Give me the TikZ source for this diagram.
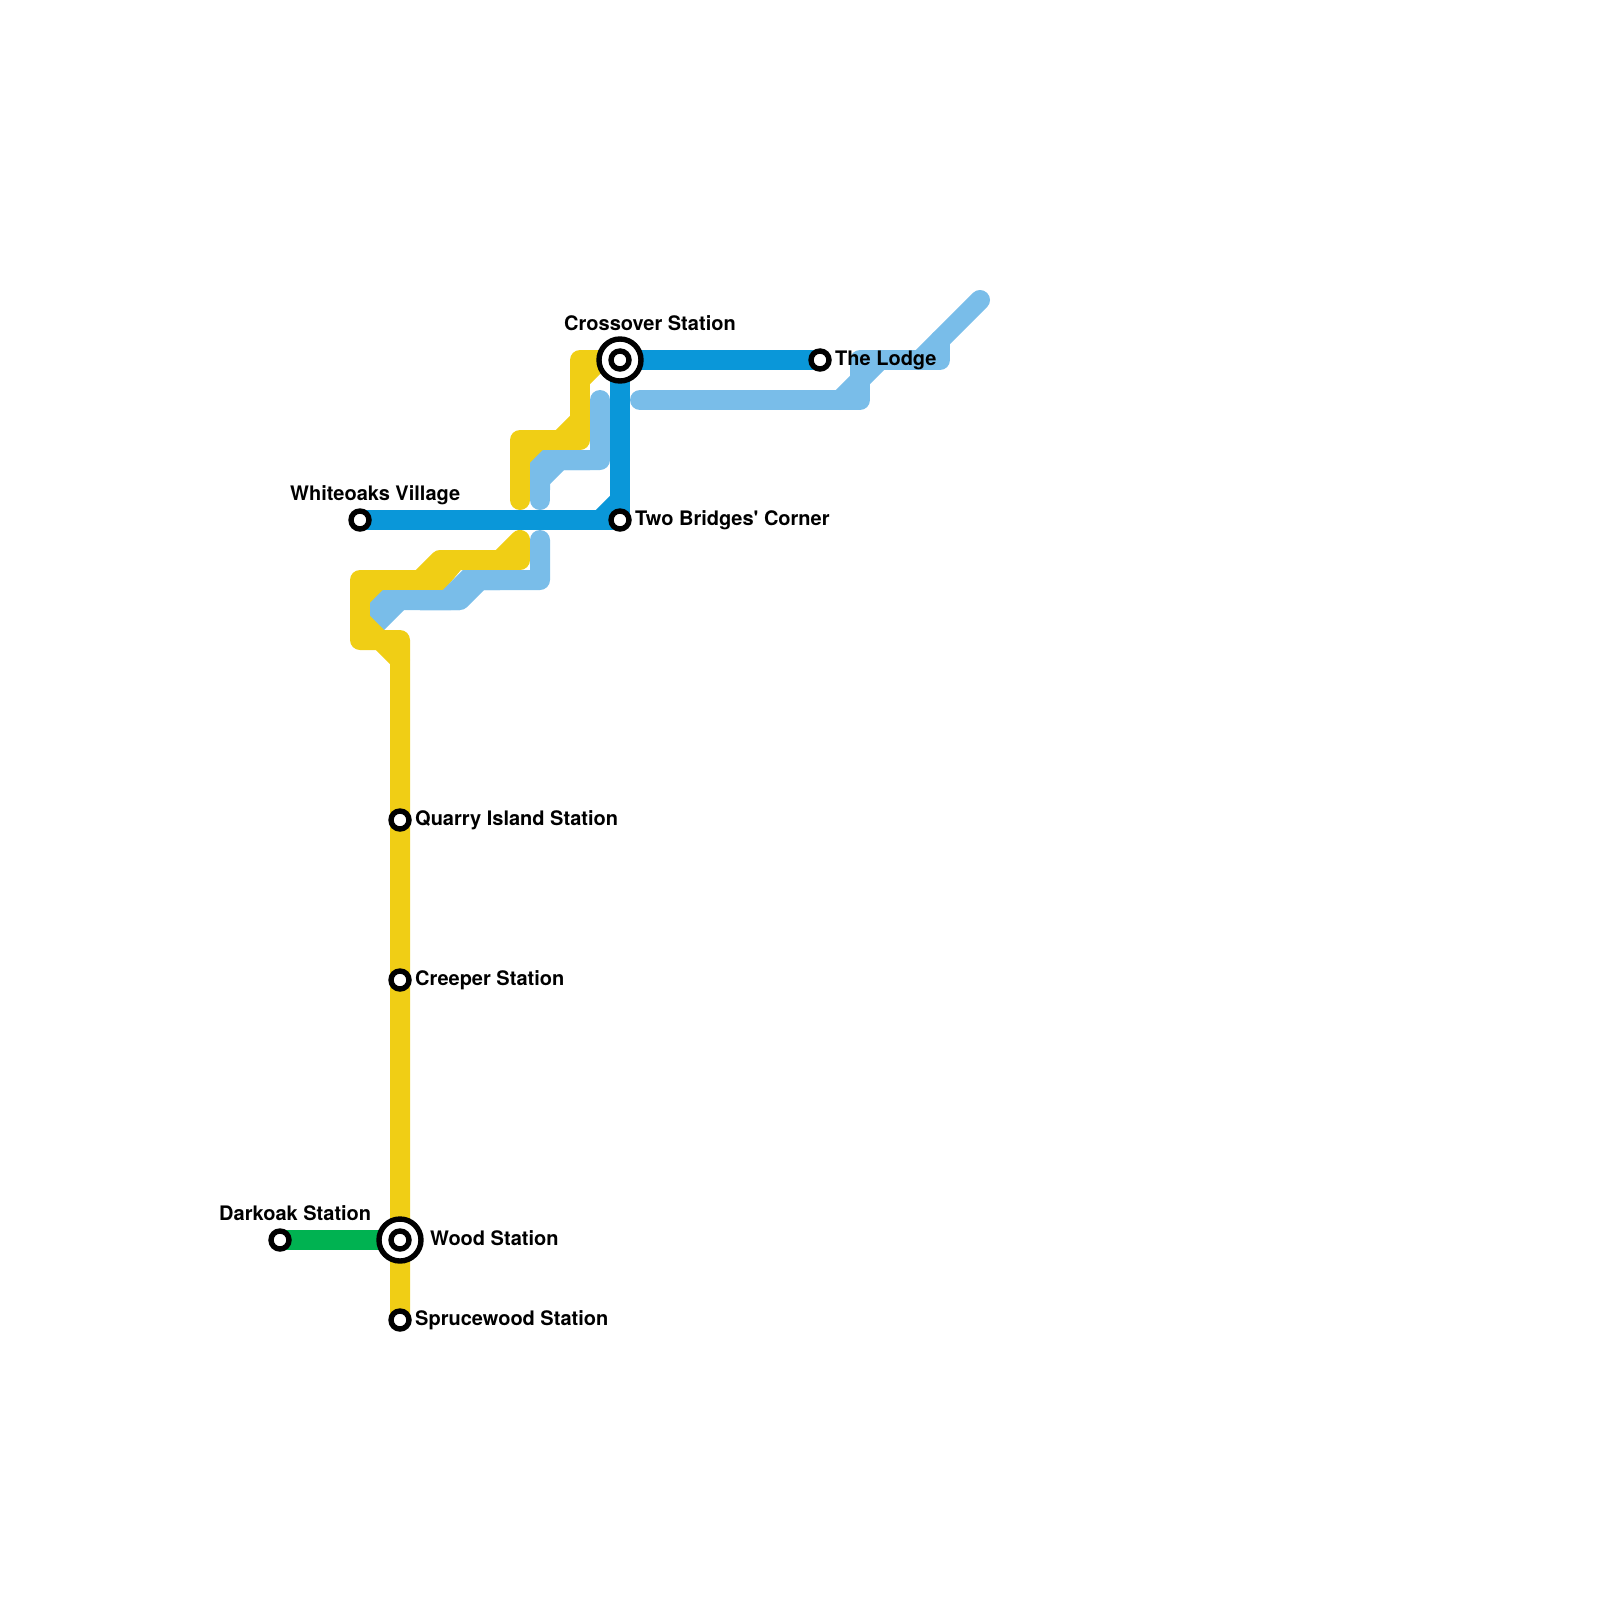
\documentclass[tikz,border=0pt]{standalone}
\usepackage{fontspec}
\setmainfont{TeX Gyre Heros}
\usetikzlibrary{backgrounds}
\definecolor{myellow}{HTML}{F0CE15}
\definecolor{mdark}{HTML}{0A97D9}
\definecolor{mlight}{HTML}{79BDE9}
\definecolor{mgreen}{HTML}{00B251}
\tikzset{
  x=1pt,y=-1pt,
  metro/.style={line width=20pt,line cap=round,line join=round},
  yline/.style={metro,draw=myellow},
  dline/.style={metro,draw=mdark},
  lline/.style={metro,draw=mlight},
  gline/.style={metro,draw=mgreen},
  stop/.style={circle,draw=black,fill=white,line width=5.4pt,minimum size=18pt,inner sep=0pt,outer sep=0pt},
  hubring/.style={circle,draw=black,fill=white,line width=5.4pt,minimum size=42pt,inner sep=0pt,outer sep=0pt},
  lab/.style={anchor=base west,inner sep=0pt,font=\fontsize{20}{24}\selectfont\bfseries,text=black},
}
\begin{document}
\begin{tikzpicture}
\useasboundingbox (0,0) rectangle (1600,1600);
% stations
\node[hubring] (crossring) at (620,360) {};
\node[stop] (crossover) at (620,360) {};
\node[hubring] (woodring) at (400,1240) {};
\node[stop] (wood) at (400,1240) {};
\node[stop] (bridges) at (620,520) {};
\node[stop] (white) at (360,520) {};
\node[stop] (lodge) at (820,360) {};
\node[stop] (quarry) at (400,820) {};
\node[stop] (creeper) at (400,980) {};
\node[stop] (spruce) at (400,1320) {};
\node[stop] (dark) at (280,1240) {};
% labels
\node[lab] (lcross) at (564,330) {Crossover Station};
\node[lab] (lwhite) at (290,500) {Whiteoaks Village};
\node[lab] (lbridges) at (635,525) {Two Bridges\textquotesingle{} Corner};
\node[lab] (llodge) at (835,365) {The Lodge};
\node[lab] (lquarry) at (415,825) {Quarry Island Station};
\node[lab] (lcreeper) at (415,985) {Creeper Station};
\node[lab] (ldark) at (219,1220) {Darkoak Station};
\node[lab] (lwood) at (430,1245) {Wood Station};
\node[lab] (lspruce) at (415,1325) {Sprucewood Station};
\begin{pgfonlayer}{background}
% yellow line
\draw[yline] (spruce.center) -- (400,640) -- (360,640) -- (360,580) -- (420,580) -- (440,560) -- (500,560) -- (520,540) -- (520,560) -- (500,560);
\draw[yline] (360,620) -- (400,660);
\draw[yline] (520,500) -- (520,440) -- (560,440) -- (580,420) -- (580,440) -- (560,440);
\draw[yline] (580,420) -- (580,360) -- (crossover.center);
\draw[yline] (580,380) -- (600,360);
\fill[myellow] (368,588) -- (390,588) -- (368,610) -- cycle;
\fill[myellow] (528,448) -- (550,448) -- (528,470) -- cycle;
\fill[myellow] (430,565) -- (465,565) -- (440,595) -- (415,595) -- (415,575) -- cycle;
% light blue line
\draw[lline,line cap=butt,line join=miter] (500,580) -- (467,580) -- (447,600) -- (420,600);
\draw[lline] (540,540) -- (540,580) -- (480,580) -- (460,600) -- (420,600);
\draw[lline,line cap=butt,line join=miter] (380,620) -- (380,607) -- (387,600) -- (460,600);
\draw[lline,line cap=butt] (400,600) -- (376,624);
\draw[yline,line cap=butt] (360,620) -- (380,640);
\draw[lline] (540,500) -- (540,480);
\draw[lline,line join=miter,line cap=butt] (540,490) -- (540,467) -- (547,460) -- (590,460);
\draw[lline] (540,480) -- (560,460) -- (600,460) -- (600,400);
\draw[lline] (640,400) -- (860,400) -- (860,360) -- (940,360) -- (940,340);
\draw[lline] (840,400) -- (880,360);
\draw[lline] (920,360) -- (980,300);
% dark blue line
\draw[dline] (white.center) -- (bridges.center) -- (crossover.center) -- (lodge.center);
\draw[dline,line cap=butt] (600,520) -- (620,500);
% green line
\draw[gline] (dark.center) -- (wood.center);
\end{pgfonlayer}
\end{tikzpicture}
\end{document}
